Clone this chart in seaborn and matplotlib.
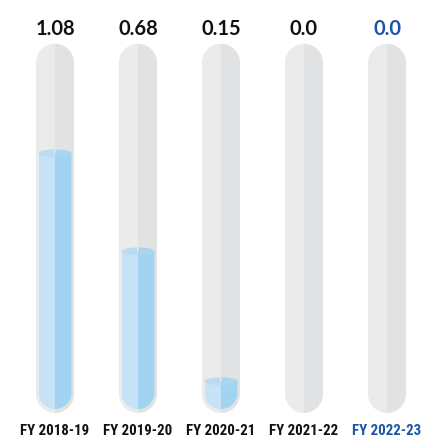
import numpy as np
import pandas as pd
import matplotlib
matplotlib.use("Agg")
import matplotlib.pyplot as plt
from matplotlib.patches import PathPatch, Polygon
from matplotlib.path import Path
import seaborn as sns

# data
years = ["FY 2018-19", "FY 2019-20", "FY 2020-21", "FY 2021-22", "FY 2022-23"]
values = [1.08, 0.68, 0.15, 0.0, 0.0]
label_colors = ["#111111", "#111111", "#111111", "#111111", "#1a56a8"]

# layout in pixels (figure is 422x439 at dpi 100)
PX_X = 83.0    # pixels per category step
PX_Y = 245.0   # pixels per value unit
TUBE_R = 19.0
LIQ_R = 16.5
tube_top = 1.45      # centre of top dome, value units
tube_bot = 0.098     # centre of bottom dome
liq_bot = 0.104

sns.set_theme(style="white")
plt.rcParams["font.family"] = ["Lato", "DejaVu Sans"]

fig = plt.figure(figsize=(4.22, 4.39), dpi=100)
ax = fig.add_axes([0, 0, 1, 1])


def stadium(cx, r_px, y_lo, y_hi, n=40):
    """rounded tube outline in data coords, circular in pixel space"""
    t1 = np.linspace(0, np.pi, n)
    t2 = np.linspace(np.pi, 2 * np.pi, n)
    xs = np.concatenate([cx + r_px * np.cos(t1) / PX_X, cx + r_px * np.cos(t2) / PX_X])
    ys = np.concatenate([y_hi + r_px * np.sin(t1) / PX_Y, y_lo + r_px * np.sin(t2) / PX_Y])
    return Path(np.column_stack([xs, ys]), closed=False)


def clip_bars(bars, r_px, y_lo, y_hi):
    for b in bars:
        idx = int(round(b.get_x() + b.get_width() / 2))
        clip = PathPatch(stadium(idx, r_px, y_lo, y_hi), transform=ax.transData,
                         facecolor="none", edgecolor="none")
        ax.add_patch(clip)
        b.set_clip_path(clip)


# glass tubes: two halves, drawn as dodged bars then rounded by clipping
tube_df = pd.DataFrame({
    "year": years * 2,
    "half": ["L"] * len(years) + ["R"] * len(years),
    "value": [tube_top + 0.2] * (2 * len(years)),
})
n0 = len(ax.patches)
sns.barplot(data=tube_df, x="year", y="value", hue="half", order=years,
            palette={"L": "#ebebec", "R": "#e1e2e4"}, width=2 * TUBE_R / PX_X,
            saturation=1, legend=False, ax=ax, linewidth=0)
clip_bars(ax.patches[n0:], TUBE_R, tube_bot, tube_top)

# liquid
liq_df = pd.DataFrame({
    "year": years * 2,
    "half": ["L"] * len(years) + ["R"] * len(years),
    "value": values * 2,
})
n1 = len(ax.patches)
sns.barplot(data=liq_df, x="year", y="value", hue="half", order=years,
            palette={"L": "#c5e2f6", "R": "#a2d3f0"}, width=2 * LIQ_R / PX_X,
            saturation=1, legend=False, ax=ax, linewidth=0)
clip_bars(ax.patches[n1:], LIQ_R, liq_bot, tube_top)

# meniscus on top of the liquid
t = np.linspace(0, np.pi, 30)
for i, v in enumerate(values):
    if v <= 0:
        continue
    ex = LIQ_R * np.cos(t) / PX_X
    ey = 4.0 * np.sin(t) / PX_Y
    for side, col in ((-1, "#badcf3"), (1, "#a9d5f1")):
        half = (ex * side) >= -0.004
        xs = np.concatenate([i + ex[half], i + ex[half][::-1]])
        ys = np.concatenate([v + ey[half], v - ey[half][::-1]])
        ax.add_patch(Polygon(np.column_stack([xs, ys]), closed=True,
                             facecolor=col, edgecolor="none", zorder=3))

# value labels on top, category labels below
label_font = ["Roboto Condensed", "Noto Sans Condensed", "Lato"]
for i, (v, c) in enumerate(zip(values, label_colors)):
    ax.text(i, 1.59, str(v), ha="center", va="center", fontsize=14.5,
            fontweight="bold", color=c)
    ax.text(i, -0.048, years[i], ha="center", va="center", fontsize=10.7,
            fontweight="bold", color=c, family=label_font)

ax.set_xlim(-55 / PX_X, (422 - 55) / PX_X)
ax.set_ylim((419 - 439) / PX_Y, 419 / PX_Y)
ax.axis("off")

fig.savefig("out.png", dpi=100, facecolor="white")
